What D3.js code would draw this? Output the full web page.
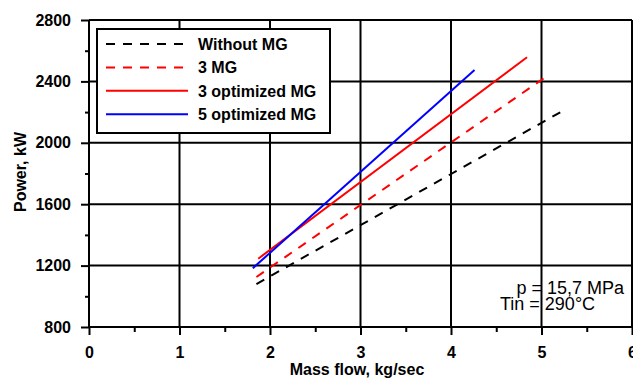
<!DOCTYPE html>
<html>
<head>
<meta charset="utf-8">
<script src="https://cdn.jsdelivr.net/npm/d3@7"></script>
<style>
  body { margin: 0; background: #fff; }
  svg { display: block; font-family: Arial, 'Liberation Sans', sans-serif; }
</style>
</head>
<body>
<div id="chart"></div>
<script>
// Series: mass flow (kg/sec) vs power (kW)
const massWithout = [1.85, 5.27];
const powerWithout = [1080, 2220];
const mass3 = [1.85, 5.03];
const power3 = [1126, 2422];
const mass3opt = [1.87, 4.84];
const power3opt = [1245, 2557];
const mass5opt = [1.81, 4.26];
const power5opt = [1183, 2474];

const seriesNames = ['Without MG', '3 MG', '3 optimized MG', '5 optimized MG'];
const xTicks = [0, 1, 2, 3, 4, 5, 6];
const yTicks = [800, 1200, 1600, 2000, 2400, 2800];
const xMinorTicks = [0.5, 1.5, 2.5, 3.5, 4.5, 5.5];
const yMinorTicks = [1000, 1400, 1800, 2200, 2600];

const width = 633, height = 379;
const x = d3.scaleLinear().domain([0, 6]).range([89, 632]);
const y = d3.scaleLinear().domain([800, 2800]).range([327, 20]);

const series = [
  { name: seriesNames[0], mass: massWithout, power: powerWithout, color: '#000', dash: '9,8' },
  { name: seriesNames[1], mass: mass3, power: power3, color: '#ff0000', dash: '9,8' },
  { name: seriesNames[2], mass: mass3opt, power: power3opt, color: '#ff0000', dash: null },
  { name: seriesNames[3], mass: mass5opt, power: power5opt, color: '#0000ff', dash: null }
];

const svg = d3.select('#chart').append('svg')
  .attr('width', width)
  .attr('height', height);

svg.append('rect').attr('width', width).attr('height', height).attr('fill', '#fff');

// grid
svg.append('g').selectAll('line').data(xTicks).enter().append('line')
  .attr('x1', d => x(d)).attr('x2', d => x(d))
  .attr('y1', y(2800)).attr('y2', y(800))
  .attr('stroke', '#000').attr('stroke-width', 2);
svg.append('g').selectAll('line').data(yTicks).enter().append('line')
  .attr('x1', x(0)).attr('x2', x(6))
  .attr('y1', d => y(d)).attr('y2', d => y(d))
  .attr('stroke', '#000').attr('stroke-width', 2);

// axes
const xAxis = svg.append('g')
  .attr('transform', 'translate(0,' + y(800) + ')')
  .call(d3.axisBottom(x).tickValues(xTicks).tickFormat(d3.format('d')).tickSize(8).tickSizeOuter(0).tickPadding(12));
const xMinor = svg.append('g')
  .attr('transform', 'translate(0,' + y(800) + ')')
  .call(d3.axisBottom(x).tickValues(xMinorTicks).tickFormat('').tickSize(5).tickSizeOuter(0));
const yAxis = svg.append('g')
  .attr('transform', 'translate(' + x(0) + ',0)')
  .call(d3.axisLeft(y).tickValues(yTicks).tickFormat(d3.format('d')).tickSize(8).tickSizeOuter(0).tickPadding(10));
const yMinor = svg.append('g')
  .attr('transform', 'translate(' + x(0) + ',0)')
  .call(d3.axisLeft(y).tickValues(yMinorTicks).tickFormat('').tickSize(4).tickSizeOuter(0));

[xAxis, xMinor, yAxis, yMinor].forEach(g => {
  g.select('.domain').remove();
  g.selectAll('line').attr('stroke', '#000').attr('stroke-width', 2);
  g.selectAll('text')
    .attr('font-family', "Arial, 'Liberation Sans', sans-serif")
    .attr('font-size', 16).attr('font-weight', 'bold').attr('fill', '#000');
});

// axis titles
svg.append('text')
  .attr('x', 357).attr('y', 375)
  .attr('text-anchor', 'middle')
  .attr('font-size', 16).attr('font-weight', 'bold')
  .text('Mass flow, kg/sec');
svg.append('text')
  .attr('transform', 'translate(26,172) rotate(-90)')
  .attr('text-anchor', 'middle')
  .attr('font-size', 16).attr('font-weight', 'bold')
  .text('Power, kW');

// data lines
const line = d3.line().x(d => x(d[0])).y(d => y(d[1]));
svg.append('g').selectAll('path').data(series).enter().append('path')
  .attr('d', s => line(d3.zip(s.mass, s.power)))
  .attr('fill', 'none')
  .attr('stroke', s => s.color)
  .attr('stroke-width', 2)
  .attr('stroke-dasharray', s => s.dash);

// legend
const legend = svg.append('g');
legend.append('rect')
  .attr('x', 97).attr('y', 29).attr('width', 233).attr('height', 104)
  .attr('fill', '#fff').attr('stroke', '#000').attr('stroke-width', 2);
const rows = legend.selectAll('g.row').data(series).enter().append('g')
  .attr('class', 'row')
  .attr('transform', (d, i) => 'translate(0,' + (44 + i * 23.4) + ')');
rows.append('line')
  .attr('x1', 106).attr('x2', 188)
  .attr('stroke', d => d.color).attr('stroke-width', 2)
  .attr('stroke-dasharray', d => d.dash);
rows.append('text')
  .attr('x', 198).attr('y', 6)
  .attr('font-size', 16).attr('font-weight', 'bold')
  .text(d => d.name);

// conditions note
svg.append('text')
  .attr('x', 624).attr('y', 294)
  .attr('text-anchor', 'end')
  .attr('font-size', 18)
  .text('p = 15,7 MPa');
svg.append('text')
  .attr('x', 500).attr('y', 309.5)
  .attr('font-size', 18)
  .text('Tin = 290°C');
</script>
</body>
</html>
